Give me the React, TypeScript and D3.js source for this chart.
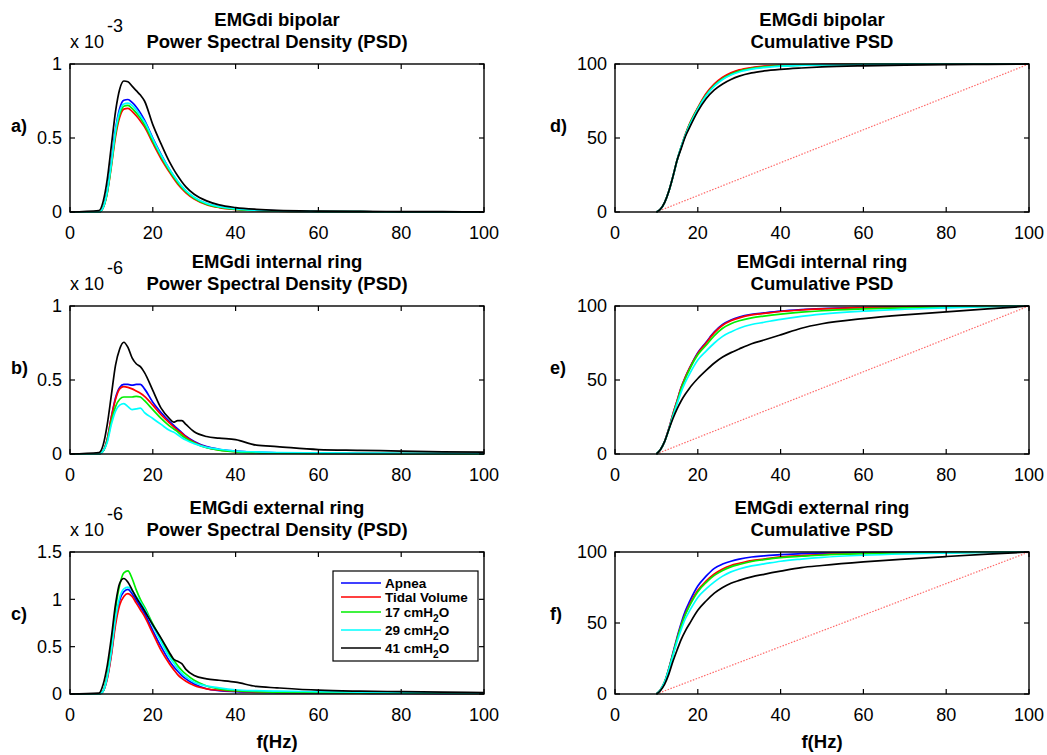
import React from 'react';
import * as d3 from 'd3';

// frequency grid (Hz) of the PSD curves
const psdFreq = [0, 7, 8, 9, 10, 11, 12, 13, 14, 15, 16, 17, 18, 20, 22, 24, 25, 26, 27, 28, 30, 33, 36, 40, 45, 50, 60, 70, 80, 90, 100];
// frequency grid (Hz) of the cumulative curves
const cumFreq = [10, 11, 12, 13, 14, 15, 16, 17, 18, 20, 22, 24, 26, 28, 30, 33, 36, 40, 45, 50, 60, 70, 80, 90, 100];

const seriesNames = ['Apnea', 'Tidal Volume', '17 cmH2O', '29 cmH2O', '41 cmH2O'];
const seriesColors = ['#0000ff', '#ff0000', '#00ee00', '#00ffff', '#000000'];

// a) bipolar PSD, x 10^-3
const psdBipolar = [
  [0, 0, 0.03, 0.14, 0.34, 0.56, 0.70, 0.755, 0.76, 0.74, 0.71, 0.67, 0.62, 0.50, 0.39, 0.29, 0.245, 0.205, 0.17, 0.14, 0.095, 0.055, 0.034, 0.02, 0.012, 0.007, 0.003, 0.002, 0.001, 0.001, 0.0005],
  [0, 0, 0.03, 0.13, 0.31, 0.51, 0.64, 0.695, 0.70, 0.68, 0.65, 0.615, 0.575, 0.465, 0.36, 0.27, 0.228, 0.19, 0.158, 0.13, 0.088, 0.05, 0.03, 0.017, 0.01, 0.006, 0.003, 0.002, 0.001, 0.001, 0.0005],
  [0, 0, 0.03, 0.13, 0.32, 0.53, 0.66, 0.715, 0.72, 0.70, 0.67, 0.635, 0.59, 0.48, 0.375, 0.28, 0.238, 0.2, 0.166, 0.137, 0.093, 0.053, 0.032, 0.018, 0.01, 0.006, 0.003, 0.002, 0.001, 0.001, 0.0005],
  [0, 0, 0.03, 0.14, 0.33, 0.55, 0.68, 0.73, 0.735, 0.72, 0.69, 0.65, 0.61, 0.495, 0.385, 0.29, 0.248, 0.21, 0.175, 0.145, 0.1, 0.058, 0.036, 0.021, 0.012, 0.007, 0.003, 0.002, 0.001, 0.001, 0.0005],
  [0, 0.01, 0.07, 0.22, 0.45, 0.68, 0.83, 0.885, 0.88, 0.85, 0.82, 0.79, 0.75, 0.59, 0.46, 0.34, 0.29, 0.245, 0.205, 0.17, 0.12, 0.075, 0.048, 0.03, 0.018, 0.011, 0.006, 0.004, 0.003, 0.002, 0.001],
];

// b) internal ring PSD, x 10^-6
const psdInternal = [
  [0, 0, 0.02, 0.1, 0.25, 0.38, 0.45, 0.47, 0.47, 0.465, 0.47, 0.47, 0.44, 0.35, 0.28, 0.22, 0.195, 0.17, 0.145, 0.12, 0.085, 0.05, 0.032, 0.02, 0.012, 0.008, 0.005, 0.004, 0.003, 0.002, 0.001],
  [0, 0, 0.02, 0.1, 0.25, 0.37, 0.44, 0.455, 0.45, 0.44, 0.425, 0.41, 0.39, 0.33, 0.265, 0.21, 0.185, 0.16, 0.14, 0.115, 0.08, 0.045, 0.028, 0.016, 0.01, 0.007, 0.004, 0.003, 0.002, 0.002, 0.001],
  [0, 0, 0.02, 0.09, 0.22, 0.32, 0.37, 0.385, 0.385, 0.385, 0.39, 0.385, 0.36, 0.3, 0.24, 0.19, 0.17, 0.15, 0.125, 0.105, 0.075, 0.042, 0.026, 0.015, 0.009, 0.006, 0.004, 0.003, 0.002, 0.002, 0.001],
  [0, 0, 0.02, 0.08, 0.2, 0.29, 0.33, 0.34, 0.32, 0.3, 0.305, 0.31, 0.28, 0.24, 0.2, 0.16, 0.148, 0.13, 0.11, 0.094, 0.07, 0.045, 0.032, 0.02, 0.014, 0.01, 0.008, 0.006, 0.005, 0.004, 0.003],
  [0, 0.01, 0.06, 0.2, 0.4, 0.6, 0.71, 0.755, 0.72, 0.65, 0.61, 0.59, 0.55, 0.43, 0.31, 0.24, 0.215, 0.225, 0.225, 0.2, 0.15, 0.118, 0.107, 0.097, 0.06, 0.05, 0.03, 0.025, 0.02, 0.015, 0.012],
];

// c) external ring PSD, x 10^-6
const psdExternal = [
  [0, 0, 0.03, 0.17, 0.43, 0.77, 0.99, 1.08, 1.105, 1.06, 0.99, 0.92, 0.85, 0.67, 0.5, 0.35, 0.29, 0.24, 0.195, 0.16, 0.105, 0.055, 0.035, 0.025, 0.018, 0.014, 0.01, 0.008, 0.006, 0.005, 0.004],
  [0, 0, 0.03, 0.16, 0.41, 0.73, 0.94, 1.03, 1.06, 1.03, 0.96, 0.89, 0.82, 0.64, 0.46, 0.32, 0.26, 0.205, 0.165, 0.135, 0.09, 0.055, 0.04, 0.03, 0.022, 0.018, 0.014, 0.01, 0.008, 0.006, 0.005],
  [0, 0, 0.03, 0.2, 0.5, 0.9, 1.15, 1.28, 1.3, 1.22, 1.1, 1.0, 0.92, 0.74, 0.58, 0.42, 0.36, 0.3, 0.25, 0.21, 0.145, 0.085, 0.055, 0.035, 0.025, 0.02, 0.015, 0.012, 0.01, 0.008, 0.006],
  [0, 0, 0.03, 0.18, 0.45, 0.8, 1.02, 1.11, 1.13, 1.09, 1.03, 0.97, 0.9, 0.72, 0.55, 0.39, 0.33, 0.27, 0.22, 0.18, 0.125, 0.085, 0.065, 0.045, 0.035, 0.03, 0.025, 0.02, 0.015, 0.012, 0.01],
  [0, 0.01, 0.1, 0.3, 0.6, 0.95, 1.17, 1.22, 1.18, 1.1, 1.02, 0.95, 0.88, 0.73, 0.59, 0.44, 0.37, 0.345, 0.32, 0.26, 0.195, 0.16, 0.145, 0.125, 0.08, 0.065, 0.04, 0.03, 0.025, 0.02, 0.015],
];

// d) bipolar cumulative PSD (%)
const cumBipolar = [
  [0, 2, 6.5, 14, 24, 35, 44, 52, 59, 70, 79.5, 86, 90.5, 93.5, 95.5, 97.3, 98.2, 98.9, 99.3, 99.6, 99.8, 99.9, 100, 100, 100],
  [0, 2, 6.5, 14, 24, 35, 44, 52.5, 59.5, 70.5, 80, 86.5, 91, 94, 96, 97.6, 98.5, 99.1, 99.5, 99.7, 99.9, 100, 100, 100, 100],
  [0, 2, 6.5, 14, 24, 35, 44, 52, 59, 70, 79, 85.5, 90, 93, 95.2, 97, 98, 98.8, 99.2, 99.5, 99.8, 99.9, 100, 100, 100],
  [0, 2, 6.5, 14, 24, 35, 44, 52, 58.5, 69.5, 78.5, 85, 89.5, 92.5, 94.6, 96.5, 97.6, 98.5, 99, 99.4, 99.7, 99.9, 100, 100, 100],
  [0, 2, 6.5, 14, 24, 35, 43, 51, 57, 68, 76.5, 82.5, 86.5, 89.5, 91.8, 94, 95.3, 96.4, 97.3, 98, 98.8, 99.3, 99.6, 99.8, 100],
];

// e) internal ring cumulative PSD (%)
const cumInternal = [
  [0, 3, 8.5, 17, 27, 36, 45, 52, 58, 68.5, 75.5, 82.5, 87.5, 90.5, 92.5, 94.3, 95.3, 96.5, 97.5, 98.2, 99, 99.5, 99.8, 99.9, 100],
  [0, 3, 8.5, 17, 27, 36, 45, 52, 58, 68, 75, 82, 87, 90, 92, 94, 95, 96.3, 97.3, 98, 98.9, 99.4, 99.7, 99.9, 100],
  [0, 3, 8.5, 16.5, 26, 35, 44, 51, 57, 67, 73.5, 80, 85, 88, 90, 92, 93.2, 94.5, 95.8, 96.8, 98, 98.8, 99.4, 99.8, 100],
  [0, 3, 8.5, 16.5, 25.5, 34, 42, 48.5, 54, 63.5, 69.5, 75, 79.5, 82.5, 85, 87.5, 89, 91, 93, 94.5, 96.5, 97.8, 98.8, 99.5, 100],
  [0, 3, 8.5, 16.5, 24, 30.5, 36, 40.5, 44.5, 51, 56.5, 61.5, 65.5, 68.5, 71, 74.5, 77, 80.5, 85, 88, 91.5, 94, 96, 98, 100],
];

// f) external ring cumulative PSD (%)
const cumExternal = [
  [0, 3, 8.5, 18, 29, 40, 50, 58.5, 65, 76, 83, 88.5, 91.5, 93.5, 95, 96.5, 97.3, 98.2, 98.8, 99.2, 99.6, 99.8, 99.9, 100, 100],
  [0, 3, 8.5, 17.5, 28, 39, 48.5, 56.5, 63, 73, 79.5, 84.5, 88, 90.5, 92, 94, 95, 96.5, 97.5, 98.2, 99, 99.4, 99.7, 99.9, 100],
  [0, 3, 8.5, 17.5, 28, 38.5, 48, 56, 62, 72, 78.5, 83.5, 87, 89.5, 91.2, 93.3, 94.6, 96, 97, 97.9, 98.8, 99.3, 99.6, 99.9, 100],
  [0, 3, 8.5, 17, 27, 37, 45.5, 53, 58.5, 68, 74, 79, 83, 86, 88, 90.2, 91.6, 93.5, 95, 96.2, 97.7, 98.6, 99.2, 99.7, 100],
  [0, 2.5, 7, 14, 23, 31, 38.5, 44.5, 49.5, 59, 65.5, 71, 75, 78, 80, 82.5, 84.3, 86.5, 89, 90.5, 93, 95, 96.8, 98.5, 100],
];

// uniform reference line (dotted)
const refFreq = [10, 100];
const refValue = [0, 100];

const xTicks = [0, 20, 40, 60, 80, 100];

const FONT = "'Liberation Sans', Arial, Helvetica, sans-serif";
const W = 1047;
const H = 755;

const colX = [[70, 484], [615, 1029]];
const rowY = [[64, 212], [306, 454], [552, 694]];

function Label({ text, x, y, size }) {
  // renders "cmH2O" with subscript 2
  const i = text.indexOf('H2O');
  if (i < 0) {
    return <text x={x} y={y} fontSize={size} fontWeight="bold" dy="0.35em">{text}</text>;
  }
  return (
    <text x={x} y={y} fontSize={size} fontWeight="bold" dy="0.35em">
      {text.slice(0, i + 1)}
      <tspan dy={5} fontSize={size * 0.75}>2</tspan>
      <tspan dy={-5}>O</tspan>
    </text>
  );
}

function Panel({ col, row, freqs, series, yMax, yTicks, letter, title1, title2, exponent, cumulative, xlabel }) {
  const [x0, x1] = colX[col];
  const [y0, y1] = rowY[row];
  const x = d3.scaleLinear().domain([0, 100]).range([x0, x1]);
  const y = d3.scaleLinear().domain([0, yMax]).range([y1, y0]);
  const line = d3
    .line<number>()
    .x((d, i) => x(freqs[i]))
    .y((d) => y(d))
    .curve(d3.curveMonotoneX);
  const refLine = d3
    .line<number>()
    .x((d, i) => x(refFreq[i]))
    .y((d) => y(d));
  const cx = (x0 + x1) / 2;
  const tl = 5;

  return (
    <g fontFamily={FONT}>
      <text x={cx} y={y0 - 38} textAnchor="middle" fontSize={18.5} fontWeight="bold">{title1}</text>
      <text x={cx} y={y0 - 16} textAnchor="middle" fontSize={18.5} fontWeight="bold">{title2}</text>
      {exponent && (
        <g fontSize={18}>
          <text x={x0} y={y0 - 16}>x 10</text>
          <text x={x0 + 37} y={y0 - 32}>{exponent}</text>
        </g>
      )}
      <text x={x0 - (col ? 65 : 59)} y={y0 + 62} fontSize={18} fontWeight="bold" dy="0.35em">{letter}</text>

      {cumulative && (
        <path d={refLine(refValue)} fill="none" stroke="#ff6a6a" strokeWidth={1.2} strokeDasharray="1.5 1.5" />
      )}
      {series.map((s, k) => (
        <path key={k} d={line(s)} fill="none" stroke={seriesColors[k]} strokeWidth={1.7} strokeLinejoin="round" />
      ))}

      <rect x={x0} y={y0} width={x1 - x0} height={y1 - y0} fill="none" stroke="#000" strokeWidth={1.4} />
      {xTicks.map((t) => (
        <g key={'x' + t}>
          <line x1={x(t)} x2={x(t)} y1={y1} y2={y1 - tl} stroke="#000" strokeWidth={1.2} />
          <line x1={x(t)} x2={x(t)} y1={y0} y2={y0 + tl} stroke="#000" strokeWidth={1.2} />
          <text x={x(t)} y={y1 + 27} textAnchor="middle" fontSize={18}>{t}</text>
        </g>
      ))}
      {yTicks.map((t) => (
        <g key={'y' + t}>
          <line x1={x0} x2={x0 + tl} y1={y(t)} y2={y(t)} stroke="#000" strokeWidth={1.2} />
          <line x1={x1} x2={x1 - tl} y1={y(t)} y2={y(t)} stroke="#000" strokeWidth={1.2} />
          <text x={x0 - 8} y={y(t)} textAnchor="end" fontSize={18} dy="0.35em">{String(t)}</text>
        </g>
      ))}
      {xlabel && (
        <text x={cx} y={y1 + 54} textAnchor="middle" fontSize={18.5} fontWeight="bold">{xlabel}</text>
      )}
    </g>
  );
}

function Legend() {
  const rows = [583, 597, 612, 630, 648];
  return (
    <g fontFamily={FONT}>
      <rect x={333} y={571} width={145} height={90} fill="#fff" stroke="#000" strokeWidth={1.2} />
      {seriesNames.map((n, k) => (
        <g key={n}>
          <line x1={341} x2={381} y1={rows[k]} y2={rows[k]} stroke={seriesColors[k]} strokeWidth={1.7} />
          <Label text={n} x={385} y={rows[k]} size={13.5} />
        </g>
      ))}
    </g>
  );
}

export default function App() {
  return (
    <svg width={W} height={H} style={{ position: 'absolute', left: 0, top: 0, background: '#fff' }}>
      <rect width={W} height={H} fill="#fff" />
      <Panel col={0} row={0} freqs={psdFreq} series={psdBipolar} yMax={1} yTicks={[0, 0.5, 1]} letter="a)"
        title1="EMGdi bipolar" title2="Power Spectral Density (PSD)" exponent="-3" />
      <Panel col={0} row={1} freqs={psdFreq} series={psdInternal} yMax={1} yTicks={[0, 0.5, 1]} letter="b)"
        title1="EMGdi internal ring" title2="Power Spectral Density (PSD)" exponent="-6" />
      <Panel col={0} row={2} freqs={psdFreq} series={psdExternal} yMax={1.5} yTicks={[0, 0.5, 1, 1.5]} letter="c)"
        title1="EMGdi external ring" title2="Power Spectral Density (PSD)" exponent="-6" xlabel="f(Hz)" />
      <Panel col={1} row={0} freqs={cumFreq} series={cumBipolar} yMax={100} yTicks={[0, 50, 100]} letter="d)"
        title1="EMGdi bipolar" title2="Cumulative PSD" cumulative />
      <Panel col={1} row={1} freqs={cumFreq} series={cumInternal} yMax={100} yTicks={[0, 50, 100]} letter="e)"
        title1="EMGdi internal ring" title2="Cumulative PSD" cumulative />
      <Panel col={1} row={2} freqs={cumFreq} series={cumExternal} yMax={100} yTicks={[0, 50, 100]} letter="f)"
        title1="EMGdi external ring" title2="Cumulative PSD" cumulative xlabel="f(Hz)" />
      <Legend />
    </svg>
  );
}
